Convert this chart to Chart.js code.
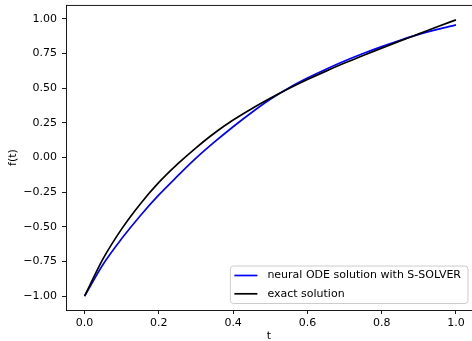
<!DOCTYPE html>
<html>
<head>
<meta charset="utf-8">
<script src="https://cdn.jsdelivr.net/npm/chart.js@4/dist/chart.umd.min.js"></script>
<style>
  html, body { margin: 0; padding: 0; background: #fff; }
  #plot { display: block; }
</style>
</head>
<body>
<canvas id="plot" width="472" height="341"></canvas>
<script>
// values
const tValues = [0, 0.05, 0.1, 0.15, 0.2, 0.25, 0.3, 0.35, 0.4, 0.45, 0.5,
                 0.55, 0.6, 0.65, 0.7, 0.75, 0.8, 0.85, 0.9, 0.95, 1.0];
const neuralOde = [-1.00, -0.77, -0.585, -0.42, -0.27, -0.135, -0.005, 0.112, 0.222, 0.325, 0.42,
                   0.502, 0.573, 0.637, 0.696, 0.75, 0.80, 0.846, 0.888, 0.924, 0.957];
const exactSol = [-1.00, -0.73, -0.515, -0.335, -0.18, -0.048, 0.07, 0.177, 0.27, 0.352, 0.427,
                  0.497, 0.562, 0.623, 0.681, 0.736, 0.789, 0.841, 0.892, 0.943, 0.993];
const seriesLabels = ["neural ODE solution with S-SOLVER", "exact solution"];
const xTicks = [0.0, 0.2, 0.4, 0.6, 0.8, 1.0];
const yTicks = [-1.0, -0.75, -0.5, -0.25, 0.0, 0.25, 0.5, 0.75, 1.0];

const FONT = "DejaVu Sans";
const FS = 11;

function pts(ys) {
  return tValues.map((t, i) => ({ x: t, y: ys[i] }));
}

// top spine (the right one falls outside the figure)
const frame = {
  id: "frame",
  afterDraw(chart) {
    const { ctx, chartArea: a } = chart;
    ctx.save();
    ctx.strokeStyle = "#000";
    ctx.lineWidth = 0.9;
    ctx.beginPath();
    ctx.moveTo(a.left, a.top + 0.45);
    ctx.lineTo(a.right, a.top + 0.45);
    ctx.stroke();
    ctx.restore();
  }
};

// matplotlib-like legend in the lower right corner
const boxLegend = {
  id: "boxLegend",
  afterDraw(chart) {
    const { ctx, chartArea: a } = chart;
    const sets = chart.data.datasets;
    ctx.save();
    ctx.font = FS + "px '" + FONT + "'";
    let tw = 0;
    sets.forEach(d => { tw = Math.max(tw, ctx.measureText(d.label).width); });
    const w = 4 + 23 + 10 + tw + 7;
    const h = 37.5;
    const x0 = a.right - 4 - w;
    const y0 = a.bottom - 6.5 - h;
    const r = 3;
    ctx.beginPath();
    ctx.moveTo(x0 + r, y0);
    ctx.arcTo(x0 + w, y0, x0 + w, y0 + h, r);
    ctx.arcTo(x0 + w, y0 + h, x0, y0 + h, r);
    ctx.arcTo(x0, y0 + h, x0, y0, r);
    ctx.arcTo(x0, y0, x0 + w, y0, r);
    ctx.closePath();
    ctx.fillStyle = "rgba(255,255,255,0.8)";
    ctx.fill();
    ctx.strokeStyle = "#cccccc";
    ctx.lineWidth = 1;
    ctx.stroke();
    sets.forEach((d, i) => {
      const y = y0 + 9.5 + i * 18.3;
      ctx.strokeStyle = d.borderColor;
      ctx.lineWidth = 1.7;
      ctx.beginPath();
      ctx.moveTo(x0 + 4, y);
      ctx.lineTo(x0 + 27, y);
      ctx.stroke();
      ctx.fillStyle = "#000";
      ctx.textBaseline = "middle";
      ctx.textAlign = "left";
      ctx.fillText(d.label, x0 + 37, y);
    });
    ctx.restore();
  }
};

const axisGrid = {
  display: true,
  drawOnChartArea: false,
  drawTicks: true,
  tickLength: 4,
  tickWidth: 0.9,
  tickColor: "#000"
};

new Chart(document.getElementById("plot"), {
  type: "line",
  data: {
    datasets: [
      {
        label: seriesLabels[0],
        data: pts(neuralOde),
        borderColor: "#0000ff",
        borderWidth: 1.7,
        pointRadius: 0,
        cubicInterpolationMode: "monotone",
        order: 2
      },
      {
        label: seriesLabels[1],
        data: pts(exactSol),
        borderColor: "#000000",
        borderWidth: 1.7,
        pointRadius: 0,
        cubicInterpolationMode: "monotone",
        order: 1
      }
    ]
  },
  options: {
    responsive: false,
    animation: false,
    events: [],
    layout: { padding: { top: 5, right: 0, bottom: 0, left: 0 } },
    plugins: {
      legend: { display: false },
      tooltip: { enabled: false }
    },
    scales: {
      x: {
        type: "linear",
        min: -0.05,
        max: 1.0432,
        grid: axisGrid,
        border: { display: true, color: "#000", width: 0.9 },
        afterBuildTicks: (s) => { s.ticks = xTicks.map(v => ({ value: v })); },
        afterFit: (s) => { s.height = 31; s.paddingLeft = 0; s.paddingRight = 0; },
        ticks: {
          color: "#000",
          padding: 3,
          maxRotation: 0,
          autoSkip: false,
          font: { family: FONT, size: FS },
          callback: (v) => Number(v).toFixed(1)
        },
        title: {
          display: true,
          text: "t",
          color: "#000",
          padding: { top: 0, bottom: -1.5 },
          font: { family: FONT, size: FS }
        }
      },
      y: {
        min: -1.1,
        max: 1.1,
        grid: axisGrid,
        border: { display: true, color: "#000", width: 0.9 },
        afterBuildTicks: (s) => { s.ticks = yTicks.map(v => ({ value: v })); },
        afterFit: (s) => { s.width = 66; s.paddingTop = 0; s.paddingBottom = 0; },
        ticks: {
          color: "#000",
          padding: 5,
          autoSkip: false,
          font: { family: FONT, size: FS },
          callback: (v) => Number(v).toFixed(2).replace("-", "\u2212")
        },
        title: {
          display: true,
          text: "f(t)",
          color: "#000",
          padding: { top: 7, bottom: 0 },
          font: { family: FONT, size: FS }
        }
      }
    }
  },
  plugins: [frame, boxLegend]
});
</script>
</body>
</html>
